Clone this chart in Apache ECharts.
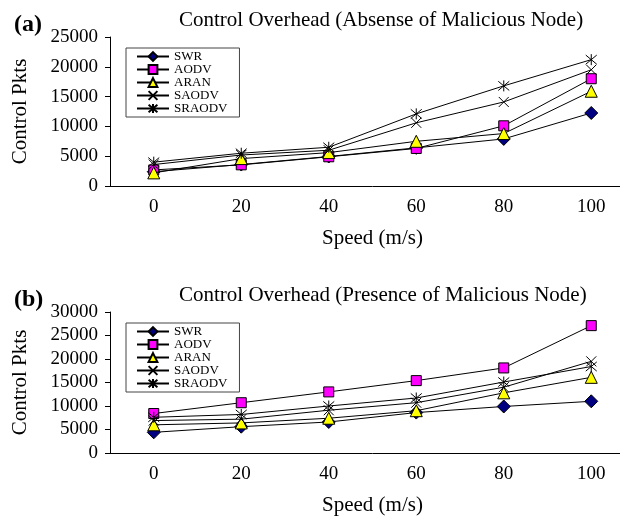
<!DOCTYPE html>
<html>
<head>
<meta charset="utf-8">
<script src="https://cdn.jsdelivr.net/npm/echarts@6/dist/echarts.min.js"></script>
<style>
body{margin:0;background:#fff;overflow:hidden;}
#chartA{width:635px;height:260px;}
#chartB{width:635px;height:261px;}
</style>
</head>
<body>
<div id="chartA"></div>
<div id="chartB"></div>
<script>
var speeds=['0','20','40','60','80','100'];
var protocols=['SWR','AODV','ARAN','SAODV','SRAODV'];

// (a) absense of malicious node
var swrA=[2400,3600,4950,6400,7900,12250];
var aodvA=[2700,3550,4900,6300,10100,18000];
var aranA=[2200,4600,5600,7500,8800,15900];
var saodvA=[3600,5200,6000,10600,14100,19500];
var sraodvA=[4000,5500,6500,12100,16800,21200];

// (b) presence of malicious node
var swrB=[4400,5600,6600,8600,9900,11000];
var aodvB=[8400,10700,13000,15400,18100,27100];
var aranB=[6000,6400,7400,9000,12800,16100];
var saodvB=[6900,7200,9100,10700,14000,19500];
var sraodvB=[7600,8200,10000,11700,15100,18400];

var font='"Liberation Serif","Times New Roman",serif';
var xPath='path://M0,0L10,10M10,0L0,10';
var starPath='path://M0,0L10,10M10,0L0,10M5,-1L5,11';

function mkSeries(data){
    var symbols=['diamond','rect','triangle',xPath,starPath];
    var colors=['#000080','#ff00ff','#ffff00','#000','#000'];
    var sizes=[13,10,12,10,11];
    var out=[];
    for(var i=0;i<protocols.length;i++){
        out.push({
            name:protocols[i],
            type:'line',
            data:data[i],
            symbol:symbols[i],
            symbolSize:sizes[i],
            showAllSymbol:true,
            lineStyle:{color:'#000',width:1},
            itemStyle:{color:colors[i],borderColor:'#000',borderWidth:1},
            emphasis:{disabled:true},
            z:2+i   // later series drawn on top, as in the original
        });
    }
    return out;
}

function paint(el,tag,title,top,max,data){
    var myChart=echarts.init(document.getElementById(el));
    var option={
        animation:false,
        title:[{
            text:title,
            left:174,top:top-32,
            textStyle:{fontFamily:font,fontSize:21,fontWeight:'normal',color:'#000'}
        },{
            text:tag,
            left:9,top:top-29,
            textStyle:{fontFamily:font,fontSize:24,fontWeight:'bold',color:'#000'}
        }],
        legend:{
            orient:'vertical',
            left:126,top:top+11,
            data:protocols,
            itemWidth:32,itemHeight:11,itemGap:0,
            padding:[2,12,2,10],
            borderColor:'#444',borderWidth:1,
            backgroundColor:'#fff',
            textStyle:{fontFamily:font,fontSize:13,lineHeight:13,color:'#000'}
        },
        grid:{left:110,right:0,top:top,height:149},
        xAxis:{
            type:'category',
            data:speeds,
            boundaryGap:true,
            name:'Speed (m/s)',
            nameLocation:'middle',
            nameGap:42,
            nameTextStyle:{fontFamily:font,fontSize:21,color:'#000'},
            axisLine:{lineStyle:{color:'#000',width:1}},
            axisTick:{length:5,lineStyle:{color:'#000'}},
            axisLabel:{fontFamily:font,fontSize:19,color:'#000',margin:12}
        },
        yAxis:{
            type:'value',
            min:0,max:max,interval:5000,
            name:'Control Pkts',
            nameLocation:'middle',
            nameRotate:90,
            nameGap:79,
            nameTextStyle:{fontFamily:font,fontSize:21,color:'#000'},
            axisLine:{show:true,lineStyle:{color:'#000',width:1}},
            axisTick:{show:true,length:5,lineStyle:{color:'#000'}},
            splitLine:{show:false},
            axisLabel:{fontFamily:font,fontSize:19,color:'#000',margin:12,
                formatter:function(v){return String(v);}}
        },
        series:mkSeries(data)
    };
    myChart.setOption(option);
}

paint('chartA','(a)','Control Overhead (Absense of Malicious Node)',37,25000,
    [swrA,aodvA,aranA,saodvA,sraodvA]);
paint('chartB','(b)','Control Overhead (Presence of Malicious Node)',52,30000,
    [swrB,aodvB,aranB,saodvB,sraodvB]);
</script>
</body>
</html>
